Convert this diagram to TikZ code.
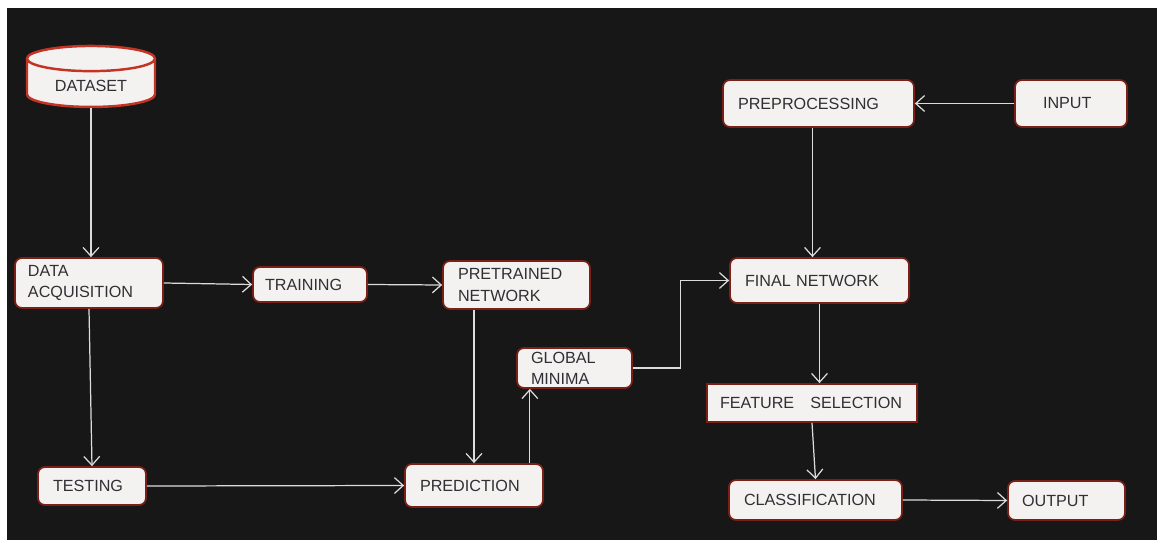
\documentclass[tikz,border=0pt]{standalone}
\usepackage{fontspec}
\setsansfont{Liberation Sans}
\usetikzlibrary{shapes.geometric, arrows.meta}
\definecolor{backdrop}{RGB}{23,23,23}
\definecolor{boxfill}{RGB}{244,241,241}
\definecolor{boxedge}{RGB}{122,32,22}
\definecolor{drumedge}{RGB}{196,52,36}
\definecolor{boxtext}{RGB}{48,48,52}
\definecolor{wire}{RGB}{220,220,220}
\tikzset{
    stage/.style={draw=boxedge, fill=boxfill, line width=1pt, rounded corners=4pt,
        text=boxtext, font=\sffamily\fontsize{9.2}{12}\selectfont, align=left,
        inner ysep=0pt, inner xsep=0.3cm},
    flow/.style={draw=wire, line width=0.7pt, -{Straight Barb[length=5pt, width=9pt]}}
}

\begin{document}
\begin{tikzpicture}
        \fill [white] (0, 0) rectangle (23.14, -10.86);
        \fill [backdrop] (0.14, -0.16) rectangle (23.14, -10.8);
        % left part
        \node (data) [shape=cylinder, shape border rotate=90, aspect=0.3, draw=drumedge,
            fill=boxfill, line width=1.4pt, minimum width=2.56cm, minimum height=1.22cm,
            text=boxtext, font=\sffamily\fontsize{9.2}{12}\selectfont] at (1.82, -1.72) {DATASET};
        \node (acq) [stage, text width=2.44cm, minimum height=1cm, inner xsep=0.26cm]
            at (1.78, -5.66) {DATA\\ACQUISITION};
        \node (train) [stage, text width=1.8cm, minimum height=0.7cm, inner xsep=0.24cm]
            at (6.2, -5.69) {TRAINING};
        \node (pretr) [stage, text width=2.34cm, minimum height=0.96cm]
            at (10.33, -5.7) {PRETRAINED\\NETWORK};
        \node (glob) [stage, text width=1.74cm, minimum height=0.8cm, inner xsep=0.28cm]
            at (11.49, -7.36) {GLOBAL\\MINIMA};
        \node (test) [stage, text width=1.56cm, minimum height=0.76cm]
            at (1.84, -9.72) {TESTING};
        \node (pred) [stage, text width=2.16cm, minimum height=0.86cm]
            at (9.48, -9.71) {PREDICTION};
        % right part
        \node (prep) [stage, text width=3.22cm, minimum height=0.94cm]
            at (16.37, -2.07) {PREPROCESSING};
        \node (inp) [stage, text width=1.12cm, minimum height=0.94cm, inner xsep=0.56cm]
            at (21.42, -2.07) {INPUT};
        \node (final) [stage, text width=2.98cm, minimum height=0.9cm]
            at (16.39, -5.61) {FINAL NETWORK};
        \node (feat) [stage, rounded corners=0pt, text width=3.68cm, minimum height=0.76cm,
            inner xsep=0.26cm] at (16.24, -8.06) {FEATURE\quad SELECTION};
        \node (cls) [stage, text width=2.86cm, minimum height=0.8cm]
            at (16.31, -10) {CLASSIFICATION};
        \node (outp) [stage, text width=1.78cm, minimum height=0.78cm, inner xsep=0.28cm]
            at (21.33, -10.01) {OUTPUT};
        % connectors
        \draw [flow] (data.south) -- (data.south |- acq.north);
        \draw [flow] (acq.east) -- (train.west);
        \draw [flow] (train.east) -- (pretr.west);
        \draw [flow] (acq.south) -- (test.north);
        \draw [flow] (test.east) -- (pred.west);
        \draw [flow] (pretr.south -| pred.north) -- (pred.north);
        \draw [flow] ([xshift=-0.28cm]pred.north east) -- ([xshift=-0.28cm]pred.north east |- glob.south);
        \draw [flow] (glob.east) -- ++(0.96, 0) |- (final.west);
        \draw [flow] (inp.west) -- (prep.east);
        \draw [flow] ([xshift=-0.12cm]prep.south) -- ([xshift=-0.12cm]prep.south |- final.north);
        \draw [flow] (final.south) -- (final.south |- feat.north);
        \draw [flow] (feat.south) -- (cls.north);
        \draw [flow] (cls.east) -- (outp.west);
    \end{tikzpicture}
\end{document}
